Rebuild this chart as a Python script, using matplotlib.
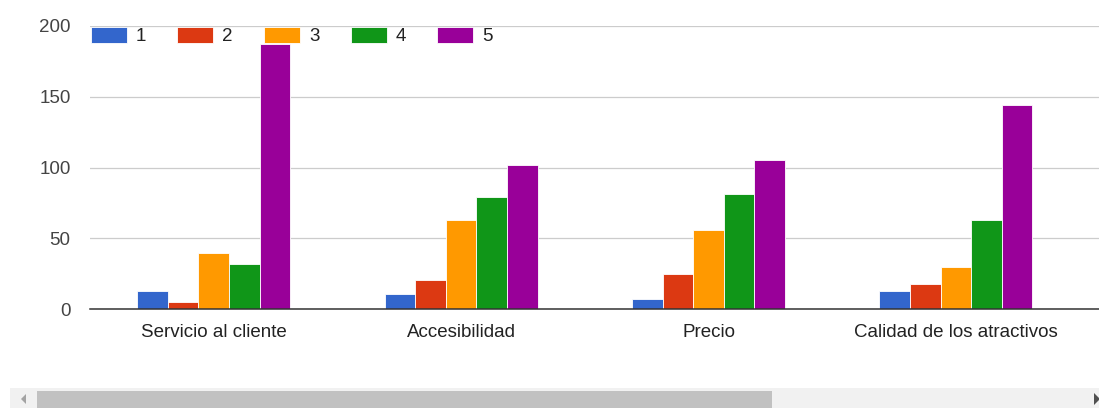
import matplotlib.pyplot as plt
import numpy as np
from matplotlib.patches import Rectangle, Polygon

categorias = ["Servicio al cliente", "Accesibilidad", "Precio", "Calidad de los atractivos"]
puntajes = ["1", "2", "3", "4", "5"]
valores = [
    [13, 11, 7, 13],      # 1
    [5, 21, 25, 18],      # 2
    [40, 63, 56, 30],     # 3
    [32, 79, 81, 63],     # 4
    [187, 102, 105, 144], # 5
]
colores = ["#3366cc", "#dc3912", "#ff9900", "#109618", "#990099"]

plt.rcParams["font.family"] = ["Liberation Sans", "DejaVu Sans"]

W, H = 1099, 408
fig = plt.figure(figsize=(W / 100, H / 100), dpi=100)

# fondo con la barra de desplazamiento
bg = fig.add_axes([0, 0, 1, 1], zorder=0)
bg.set_xlim(0, W)
bg.set_ylim(H, 0)
bg.axis("off")
bg.add_patch(Rectangle((10, 388), W - 10, 22, color="#f1f1f1", lw=0))
bg.add_patch(Rectangle((37, 391), 735, 19, color="#c1c1c1", lw=0))
bg.add_patch(Polygon([[26, 394], [26, 404], [21, 399]], closed=True, color="#a3a3a3", lw=0))
bg.add_patch(Polygon([[1094, 393], [1094, 405], [1100, 399]], closed=True, color="#505050", lw=0))

left, right = 90, W
bottom, top = 309.3, 25.7
ax = fig.add_axes([left / W, 1 - bottom / H, (right - left) / W, (bottom - top) / H], zorder=1)
ax.patch.set_alpha(0)

x = np.arange(len(categorias))
ancho = 0.1237
barras = []
for i, (serie, color) in enumerate(zip(valores, colores)):
    b = ax.bar(x + (i - 2) * ancho, serie, ancho, color=color,
               edgecolor="white", linewidth=0.6, label=puntajes[i], zorder=3)
    barras.append(b)

grupo_px = 247.4
ax.set_xlim(-0.5, -0.5 + (right - left) / grupo_px)
ax.set_ylim(0, 200)
ax.set_yticks([0, 50, 100, 150, 200])
ax.yaxis.grid(True, color="#cccccc", linewidth=0.9, zorder=0)
ax.set_axisbelow(True)
ax.set_xticks(x)
ax.set_xticklabels(categorias)
ax.tick_params(axis="y", length=0, pad=14, labelsize=13.5, labelcolor="#444444")
ax.tick_params(axis="x", length=0, pad=10.5, labelsize=13.5, labelcolor="#222222")
for lbl in ax.get_yticklabels():
    lbl.set_y(lbl.get_position()[1])
for s in ["top", "right", "left"]:
    ax.spines[s].set_visible(False)
ax.spines["bottom"].set_color("#333333")
ax.spines["bottom"].set_linewidth(1.1)
ax.spines["bottom"].set_zorder(4)

leg = fig.legend(handles=barras, labels=puntajes, loc="upper left",
                 bbox_to_anchor=(90.5 / W, 1 - 26.5 / H), ncol=5, frameon=False,
                 fontsize=13.5, handlelength=1.92, handleheight=0.95,
                 handletextpad=0.48, columnspacing=1.67,
                 borderpad=0, borderaxespad=0)
for t in leg.get_texts():
    t.set_color("#222222")
leg.set_zorder(5)

fig.savefig("out.png", dpi=100)
